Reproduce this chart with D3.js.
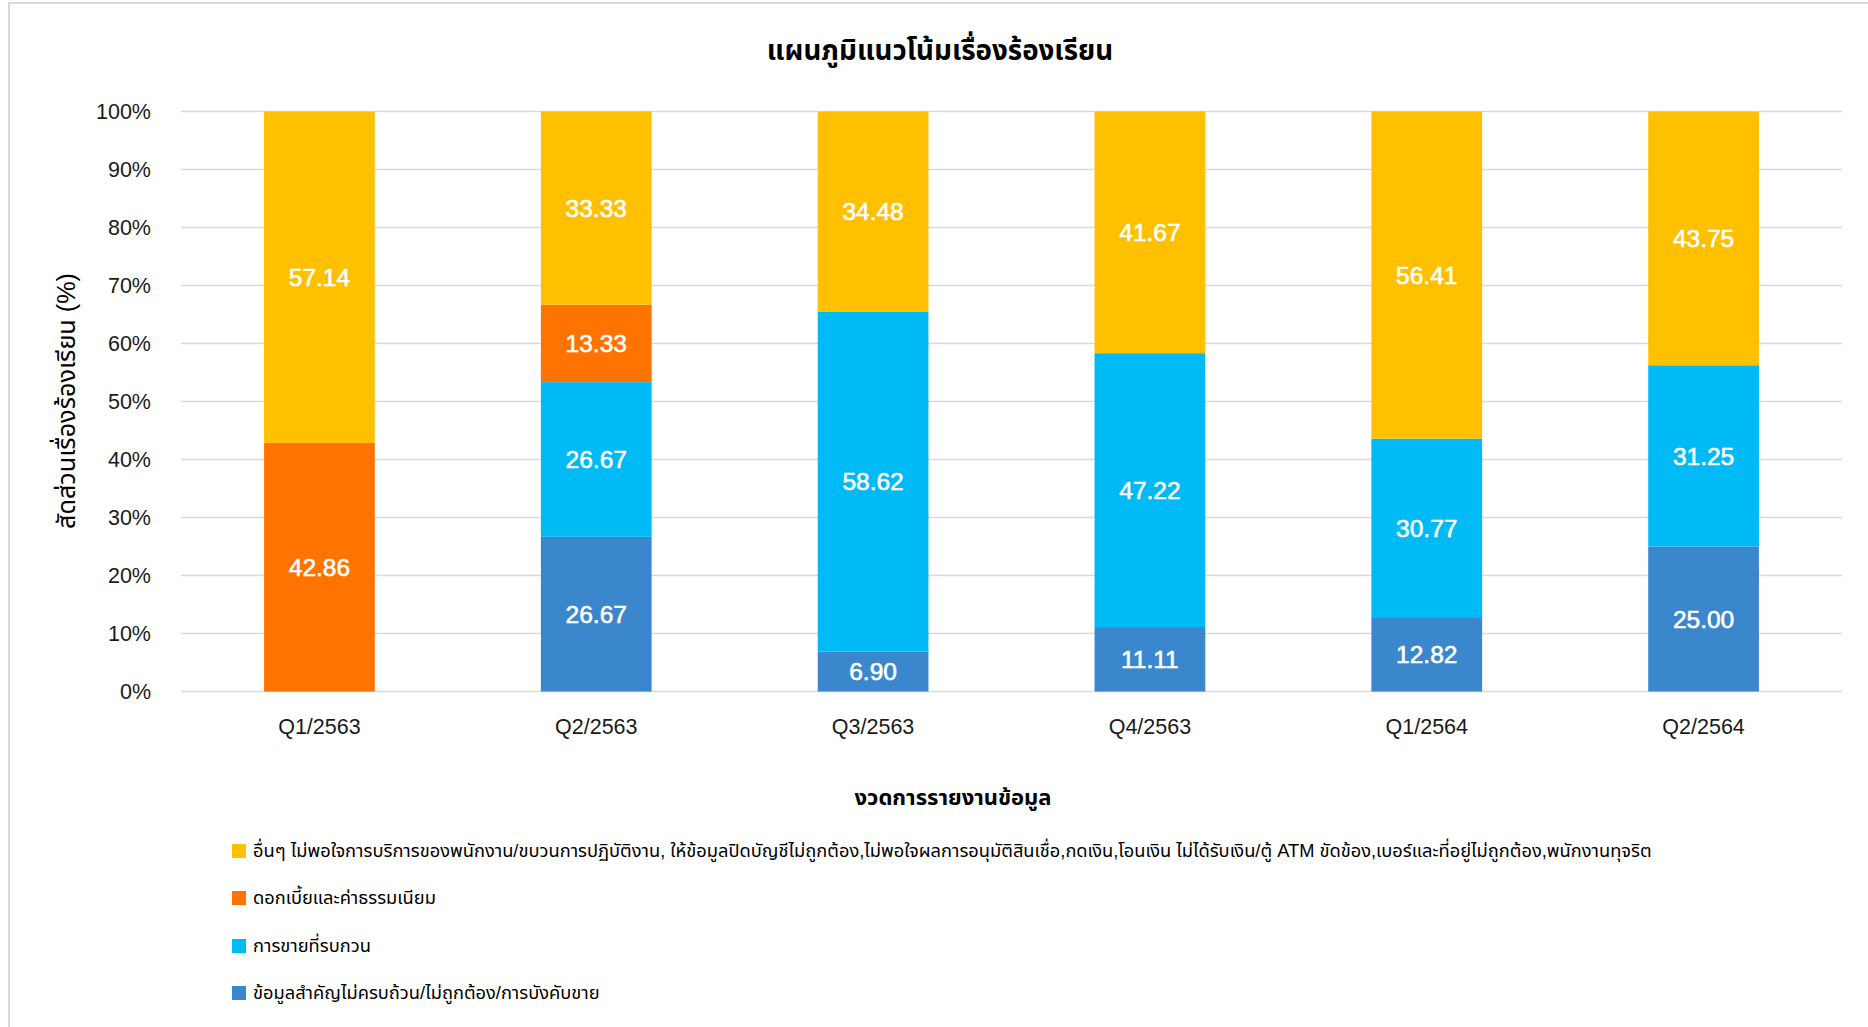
<!DOCTYPE html>
<html>
<head>
<meta charset="utf-8">
<script src="https://cdn.jsdelivr.net/npm/d3@7"></script>
<style>
  html, body { margin: 0; padding: 0; background: #ffffff; }
  svg { display: block; }
  text { font-family: "Liberation Sans", Arial, "Noto Sans Thai", "Noto Sans", sans-serif; }
</style>
</head>
<body>
<svg id="chart" width="1868" height="1027"></svg>
<script>
const categories = ["Q1/2563", "Q2/2563", "Q3/2563", "Q4/2563", "Q1/2564", "Q2/2564"];
const seriesNames = [
  "ข้อมูลสำคัญไม่ครบถ้วน/ไม่ถูกต้อง/การบังคับขาย",
  "การขายที่รบกวน",
  "ดอกเบี้ยและค่าธรรมเนียม",
  "อื่นๆ ไม่พอใจการบริการของพนักงาน/ขบวนการปฏิบัติงาน, ให้ข้อมูลปิดบัญชีไม่ถูกต้อง,ไม่พอใจผลการอนุมัติสินเชื่อ,กดเงิน,โอนเงิน ไม่ได้รับเงิน/ตู้ ATM ขัดข้อง,เบอร์และที่อยู่ไม่ถูกต้อง,พนักงานทุจริต"
];
const infoValues = [0, 26.67, 6.90, 11.11, 12.82, 25.00];
const salesValues = [0, 26.67, 58.62, 47.22, 30.77, 31.25];
const feeValues = [42.86, 13.33, 0, 0, 0, 0];
const otherValues = [57.14, 33.33, 34.48, 41.67, 56.41, 43.75];
const seriesColors = ["#3B87CD", "#00BAF6", "#FF7300", "#FFC000"];
const yTicks = [0, 10, 20, 30, 40, 50, 60, 70, 80, 90, 100];
const chartTitle = "แผนภูมิแนวโน้มเรื่องร้องเรียน";
const xTitle = "งวดการรายงานข้อมูล";
const yTitle = "สัดส่วนเรื่องร้องเรียน (%)";

const seriesValues = [infoValues, salesValues, feeValues, otherValues];
const rows = categories.map((c, i) => {
  const r = { cat: c };
  seriesValues.forEach((vals, s) => { r["s" + s] = vals[i]; });
  return r;
});
const keys = seriesValues.map((_, s) => "s" + s);

const svg = d3.select("#chart");
const plotLeft = 181, plotRight = 1842, plotTop = 111.5, plotBottom = 691.5;

// frame
svg.append("rect").attr("x", 9).attr("y", 3).attr("width", 1900).attr("height", 1100)
  .attr("fill", "none").attr("stroke", "#d9d9d9").attr("stroke-width", 2);

const x = d3.scaleBand().domain(categories).range([plotLeft, plotRight]).paddingInner(0.6).paddingOuter(0.3);
const y = d3.scaleLinear().domain([0, 100]).range([plotBottom, plotTop]);

// gridlines
svg.append("g").selectAll("line").data(yTicks).join("line")
  .attr("x1", plotLeft).attr("x2", plotRight)
  .attr("y1", d => y(d)).attr("y2", d => y(d))
  .attr("stroke", "#d9d9d9").attr("stroke-width", 1.6);

// y axis
const yAxis = d3.axisLeft(y).tickValues(yTicks).tickFormat(d => d + "%").tickSize(0).tickPadding(0);
const yg = svg.append("g").attr("transform", `translate(${151},0)`).call(yAxis);
yg.select(".domain").remove();
yg.selectAll("text").attr("font-size", 21.5).attr("fill", "#1a1a1a").attr("font-family", "Liberation Sans, Arial, sans-serif");

// x axis
const xAxis = d3.axisBottom(x).tickSize(0).tickPadding(0);
const xg = svg.append("g").attr("transform", `translate(0,${718})`).call(xAxis);
xg.select(".domain").remove();
xg.selectAll("text").attr("font-size", 21.5).attr("fill", "#1a1a1a").attr("dy", "0.75em")
  .attr("font-family", "Liberation Sans, Arial, sans-serif");

// stacked bars
const stack = d3.stack().keys(keys)(rows);
const layers = svg.append("g").selectAll("g").data(stack).join("g")
  .attr("fill", (d, i) => seriesColors[i]);
layers.selectAll("rect").data(d => d).join("rect")
  .attr("x", d => x(d.data.cat))
  .attr("width", x.bandwidth())
  .attr("y", d => y(d[1]))
  .attr("height", d => y(d[0]) - y(d[1]));

// labels
const lab = svg.append("g");
stack.forEach((layer, i) => {
  layer.forEach(d => {
    const v = d[1] - d[0];
    if (v <= 0) return;
    lab.append("text")
      .attr("x", x(d.data.cat) + x.bandwidth() / 2)
      .attr("y", (y(d[0]) + y(d[1])) / 2)
      .attr("text-anchor", "middle")
      .attr("dy", "0.36em")
      .attr("font-size", 24.5)
      .attr("font-family", "Liberation Sans, Arial, sans-serif")
      .attr("fill", "#ffffff")
      .attr("stroke", "#ffffff").attr("stroke-width", 0.6)
      .text(v.toFixed(2));
  });
});

// title
svg.append("text").attr("x", 940).attr("y", 50).attr("text-anchor", "middle")
  .attr("dy", "0.35em").attr("font-size", 27.7).attr("font-weight", "bold").attr("fill", "#000")
  .text(chartTitle);

// axis titles
svg.append("text").attr("x", 953).attr("y", 797).attr("text-anchor", "middle")
  .attr("dy", "0.35em").attr("font-size", 22).attr("font-weight", "bold").attr("fill", "#000")
  .text(xTitle);
svg.append("text").attr("transform", `translate(66,401) rotate(-90)`).attr("text-anchor", "middle")
  .attr("dy", "0.35em").attr("font-size", 25.2).attr("fill", "#000")
  .text(yTitle);

// legend (top item first = last series)
const legendOrder = [3, 2, 1, 0];
const legendY = [851, 898, 946, 993];
const lg = svg.append("g");
legendOrder.forEach((s, i) => {
  lg.append("rect").attr("x", 232).attr("y", legendY[i] - 7).attr("width", 14).attr("height", 14)
    .attr("fill", seriesColors[s]);
  lg.append("text").attr("x", 253).attr("y", legendY[i]).attr("dy", "0.35em")
    .attr("font-size", 18.3).attr("fill", "#000").text(seriesNames[s]);
});
</script>
</body>
</html>
